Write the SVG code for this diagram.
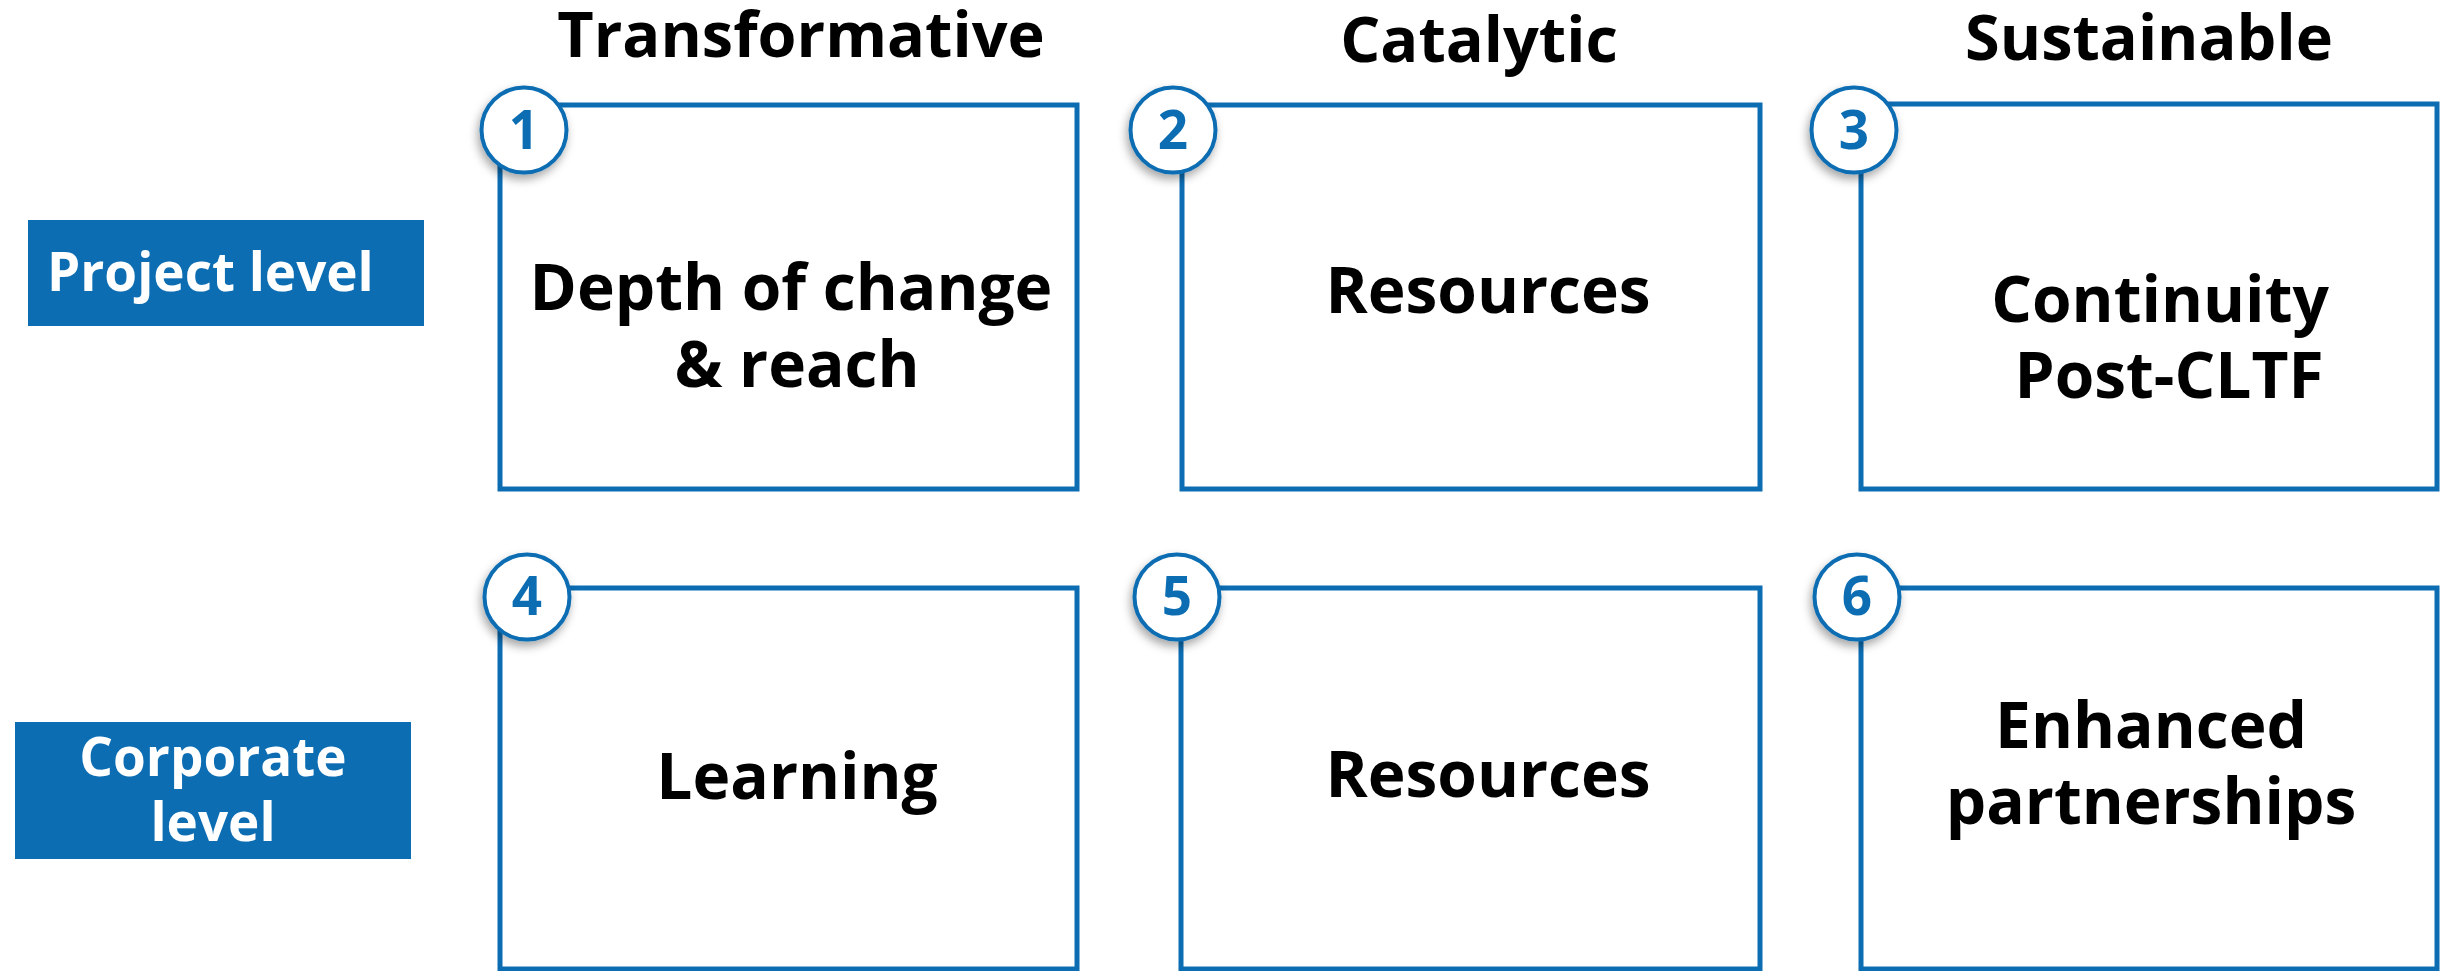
<svg xmlns="http://www.w3.org/2000/svg" width="2445" height="971" viewBox="0 0 2445 971">
  <defs>
    <filter id="badgeShadow" x="-40%" y="-40%" width="180%" height="180%">
      <feDropShadow dx="-2" dy="5" stdDeviation="5" flood-color="#000" flood-opacity="0.35"/>
    </filter>
    <style>
      .card { fill: #fff; stroke: #0C6DB3; stroke-width: 5; }
      .badge { fill: #fff; stroke: #0C6DB3; stroke-width: 4; filter: url(#badgeShadow); }
      .num { fill: #0C6DB3; font-family: "Open Sans", "Noto Sans", sans-serif; font-weight: 700; font-size: 53px; text-anchor: middle; }
      .head { fill: #000; font-family: "Open Sans", "Noto Sans", sans-serif; font-weight: 700; font-size: 63px; text-anchor: middle; }
      .body { fill: #000; font-family: "Open Sans", "Noto Sans", sans-serif; font-weight: 700; font-size: 64px; text-anchor: middle; }
      .tag { fill: #0C6DB3; }
      .tagtext { fill: #fff; font-family: "Open Sans", "Noto Sans", sans-serif; font-weight: 700; font-size: 53px; }
    </style>
  </defs>
  <rect width="2445" height="971" fill="#fff"/>

  <!-- column headings -->
  <g id="headings">
    <text class="head" x="801" y="57">Transformative</text>
    <text class="head" x="1479" y="62">Catalytic</text>
    <text class="head" x="2149" y="60">Sustainable</text>
  </g>

  <!-- row labels -->
  <g id="label-project">
    <rect class="tag" x="28" y="220" width="396" height="106"/>
    <text class="tagtext" x="47" y="291">Project level</text>
  </g>
  <g id="label-corporate">
    <rect class="tag" x="15" y="722" width="396" height="137"/>
    <text class="tagtext" x="213" y="776" text-anchor="middle">Corporate</text>
    <text class="tagtext" x="213" y="841" text-anchor="middle">level</text>
  </g>

  <!-- project level cards -->
  <g id="node-1">
    <rect class="card" x="500" y="105" width="577" height="384"/>
    <circle class="badge" cx="524" cy="130" r="42.5"/>
    <text class="num" x="524" y="149">1</text>
    <text class="body" x="791" y="310">Depth of change</text>
    <text class="body" x="797" y="387">&amp; reach</text>
  </g>
  <g id="node-2">
    <rect class="card" x="1182" y="105" width="578" height="384"/>
    <circle class="badge" cx="1173" cy="130" r="42.5"/>
    <text class="num" x="1173" y="149">2</text>
    <text class="body" x="1488" y="313">Resources</text>
  </g>
  <g id="node-3">
    <rect class="card" x="1861" y="104" width="576" height="385"/>
    <circle class="badge" cx="1854" cy="130" r="42.5"/>
    <text class="num" x="1854" y="149">3</text>
    <text class="body" x="2160" y="322">Continuity</text>
    <text class="body" x="2169" y="398">Post-CLTF</text>
  </g>

  <!-- corporate level cards -->
  <g id="node-4">
    <rect class="card" x="500" y="588" width="577" height="381"/>
    <circle class="badge" cx="527" cy="597" r="42.5"/>
    <text class="num" x="527" y="615">4</text>
    <text class="body" x="797" y="799">Learning</text>
  </g>
  <g id="node-5">
    <rect class="card" x="1181" y="588" width="579" height="381"/>
    <circle class="badge" cx="1177" cy="597" r="42.5"/>
    <text class="num" x="1177" y="615">5</text>
    <text class="body" x="1488" y="797">Resources</text>
  </g>
  <g id="node-6">
    <rect class="card" x="1861" y="588" width="576" height="381"/>
    <circle class="badge" cx="1857" cy="597" r="42.5"/>
    <text class="num" x="1857" y="615">6</text>
    <text class="body" x="2151" y="748">Enhanced</text>
    <text class="body" x="2151" y="824">partnerships</text>
  </g>
</svg>
